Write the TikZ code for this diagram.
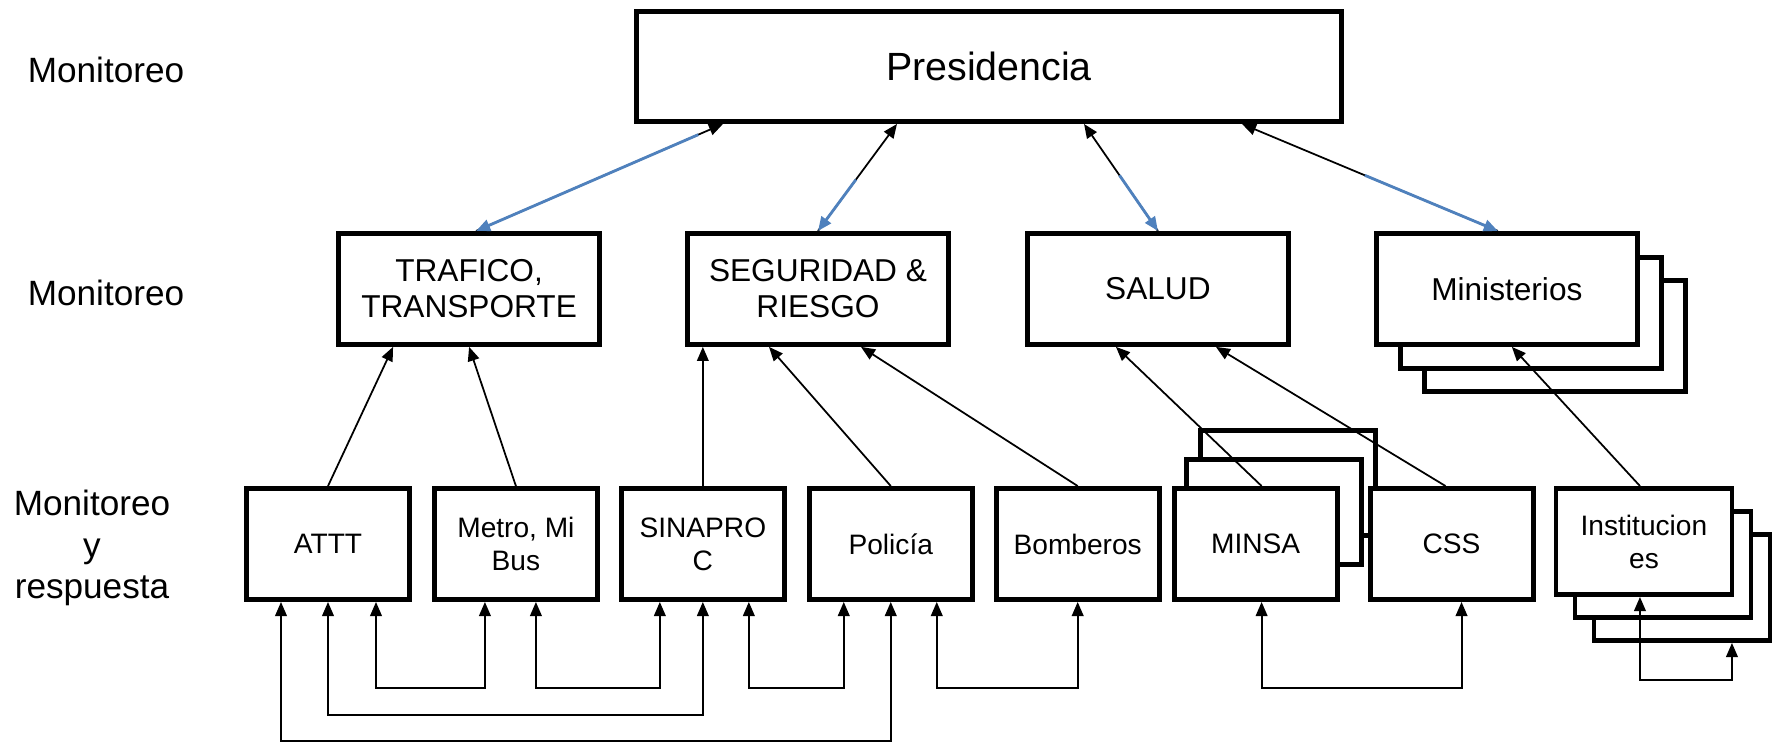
\documentclass[tikz,border=0pt]{standalone}
\usepackage{fontspec}
\setmainfont{Liberation Sans}
\usepackage{tikz}
\usetikzlibrary{arrows.meta,positioning,calc}
\definecolor{linkblue}{RGB}{79,129,189}
\pgfdeclarelayer{background}
\pgfsetlayers{background,main}

\begin{document}
\begin{tikzpicture}[
    every node/.style={inner sep=0pt},
    topbox/.style={draw, line width=1.4pt, fill=white, minimum width=7.05cm, minimum height=1.10cm, font=\fontsize{11.2}{13}\selectfont},
    midbox/.style={draw, line width=1.4pt, fill=white, align=center, minimum width=2.61cm, minimum height=1.11cm, font=\fontsize{9}{10.3}\selectfont},
    botbox/.style={draw, line width=1.4pt, fill=white, align=center, minimum width=1.63cm, minimum height=1.11cm, font=\fontsize{8}{9.4}\selectfont},
    instbox/.style={botbox, minimum width=1.76cm, minimum height=1.06cm},
    stackbox/.style={botbox, minimum width=1.75cm, minimum height=1.05cm},
    lvl/.style={align=center, font=\fontsize{10}{11.9}\selectfont},
    uplink/.style={-{Triangle[length=4pt,width=3.3pt]}, line width=0.5pt},
    bluelink/.style={-{Triangle[length=4pt,width=3.3pt]}, line width=0.8pt, color=linkblue},
    both/.style={{Triangle[length=4pt,width=3.3pt]}-{Triangle[length=4pt,width=3.3pt]}, line width=0.55pt}
  ]
    % levels
    \node[lvl] (lvl1) at (1.06,-0.70) {Monitoreo};
    \node[lvl] (lvl2) at (1.06,-2.93) {Monitoreo};
    \node[lvl] (lvl3) at (0.92,-5.48) {Monitoreo\\y\\respuesta};

    \node[topbox] (pres) at (9.89,-0.665) {Presidencia};

    \node[midbox, below left=1.07cm and 0.32cm of pres] (traf) {TRAFICO,\\TRANSPORTE};
    \node[midbox, right=0.83cm of traf] (seg) {SEGURIDAD \&\\RIESGO};
    \node[midbox, right=0.74cm of seg] (salud) {SALUD};
    \node[midbox, right=0.83cm of salud] (mins) {Ministerios};

    \node[botbox] (attt) at (3.28,-5.44) {ATTT};
    \node[botbox, right=0.20cm of attt] (metro) {Metro, Mi\\Bus};
    \node[botbox, right=0.19cm of metro] (sina) {SINAPRO\\C};
    \node[botbox, right=0.20cm of sina] (pol) {Policía};
    \node[botbox, right=0.19cm of pol] (bomb) {Bomberos};
    \node[botbox, right=0.10cm of bomb] (minsa) {MINSA};
    \node[botbox, right=0.28cm of minsa] (css) {CSS};
    \node[instbox, right=0.18cm of css.north east, anchor=north west] (inst) {Institucion\\es};

    \begin{pgfonlayer}{background}
      \fill[white] (0,0) rectangle (17.81,-7.43);
      \node[midbox] (mins3) at ([shift={(0.48,-0.47)}]mins.center) {};
      \node[midbox] (mins2) at ([shift={(0.24,-0.24)}]mins.center) {};
      \node[stackbox] (minsa3) at ([shift={(0.32,0.61)}]minsa.center) {};
      \node[stackbox] (minsa2) at ([shift={(0.18,0.32)}]minsa.center) {};
      \node[instbox] (inst3) at ([shift={(0.38,-0.46)}]inst.center) {};
      \node[instbox] (inst2) at ([shift={(0.19,-0.23)}]inst.center) {};
    \end{pgfonlayer}

    % presidencia <-> areas
    \coordinate (p1) at ([xshift=-2.66cm]pres.south);
    \coordinate (p2) at ([xshift=-0.92cm]pres.south);
    \coordinate (p3) at ([xshift=0.95cm]pres.south);
    \coordinate (p4) at ([xshift=2.53cm]pres.south);
    \coordinate (a1) at ([xshift=0.07cm]traf.north);
    \coordinate (a4) at ([xshift=-0.09cm]mins.north);
    \draw[uplink] (a1) -- (p1);
    \draw[bluelink] ($(p1)!0.1!(a1)$) -- (a1);
    \draw[uplink] (seg.north) -- (p2);
    \draw[bluelink] ($(p2)!0.52!(seg.north)$) -- (seg.north);
    \draw[uplink] (salud.north) -- (p3);
    \draw[bluelink] ($(p3)!0.48!(salud.north)$) -- (salud.north);
    \draw[uplink] (a4) -- (p4);
    \draw[bluelink] ($(p4)!0.48!(a4)$) -- (a4);

    % instituciones -> areas
    \draw[uplink] (attt.north) -- ([xshift=-0.76cm]traf.south);
    \draw[uplink] (metro.north) -- (traf.south);
    \draw[uplink] (sina.north) -- (sina.north |- seg.south);
    \draw[uplink] (pol.north) -- ([xshift=-0.49cm]seg.south);
    \draw[uplink] (bomb.north) -- ([xshift=0.43cm]seg.south);
    \draw[uplink] ([xshift=0.06cm]minsa.north) -- ([xshift=-0.42cm]salud.south);
    \draw[uplink] ([xshift=-0.06cm]css.north) -- ([xshift=0.58cm]salud.south);
    \draw[uplink] ([xshift=-0.04cm]inst.north) -- ([xshift=0.05cm]mins.south);

    % respuesta
    \draw[both] ([xshift=0.48cm]attt.south) -- ++(0,-0.86) -| ([xshift=-0.31cm]metro.south);
    \draw[both] ([xshift=0.20cm]metro.south) -- ++(0,-0.86) -| ([xshift=-0.43cm]sina.south);
    \draw[both] ([xshift=0.46cm]sina.south) -- ++(0,-0.86) -| ([xshift=-0.47cm]pol.south);
    \draw[both] ([xshift=0.46cm]pol.south) -- ++(0,-0.86) -| (bomb.south);
    \draw[both] ([xshift=0.06cm]minsa.south) -- ++(0,-0.86) -| ([xshift=0.10cm]css.south);
    \draw[both] (attt.south) -- ++(0,-1.13) -| (sina.south);
    \draw[both] ([xshift=-0.47cm]attt.south) -- ++(0,-1.39) -| (pol.south);
    \draw[both] ([xshift=-0.04cm]inst.south) -- ++(0,-0.83) -| ([xshift=0.5cm]inst3.south);
  \end{tikzpicture}
\end{document}
